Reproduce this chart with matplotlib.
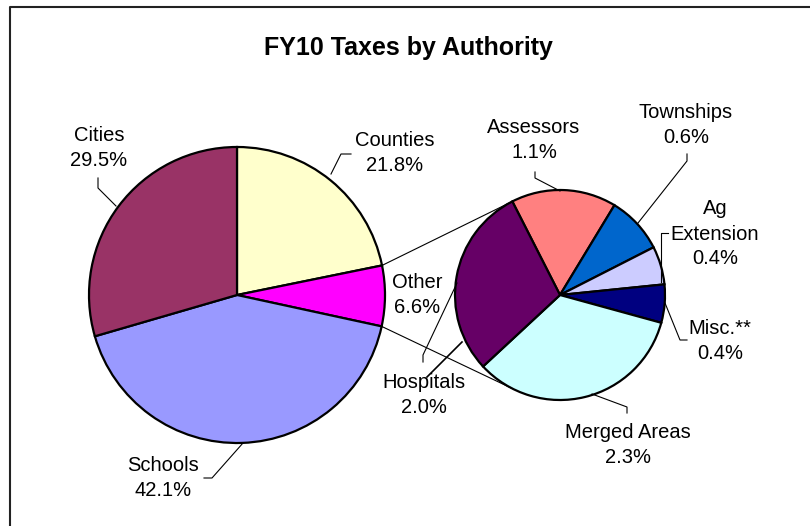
import numpy as np
import matplotlib.pyplot as plt

W, H = 810, 526

main_labels = ['Counties', 'Other', 'Schools', 'Cities']
main_values = [21.8, 6.6, 42.1, 29.5]
main_colors = ['#FFFFCC', '#FF00FF', '#9999FF', '#993366']

sub_labels = ['Assessors', 'Townships', 'Ag\nExtension', 'Misc.**', 'Merged Areas', 'Hospitals']
sub_values = [1.1, 0.6, 0.4, 0.4, 2.3, 2.0]
sub_colors = ['#FF8080', '#0066CC', '#CCCCFF', '#000080', '#CCFFFF', '#660066']

plt.rcParams['font.family'] = ['Liberation Sans', 'DejaVu Sans']

fig = plt.figure(figsize=(8.1, 5.26), dpi=100)
ax = fig.add_axes([0, 0, 1, 1])


def Y(y):
    # pixel row (from top) -> data y
    return H - y


main_c = (237, Y(295))
main_r = 148
sub_c = (560, Y(295))
sub_r = 105
sub_start = 117

wp = dict(edgecolor='black', linewidth=1.6)
ax.pie(main_values, colors=main_colors, startangle=90, counterclock=False,
       center=main_c, radius=main_r, wedgeprops=wp, frame=True)
ax.pie(sub_values, colors=sub_colors, startangle=sub_start, counterclock=False,
       center=sub_c, radius=sub_r, wedgeprops=wp, frame=True)

# connector lines from the "Other" wedge to the second pie
a1 = 90 - main_values[0] / sum(main_values) * 360
a2 = a1 - main_values[1] / sum(main_values) * 360
for am, asub in [(a1, sub_start), (a2, -sub_start)]:
    p = (main_c[0] + main_r * np.cos(np.radians(am)), main_c[1] + main_r * np.sin(np.radians(am)))
    q = (sub_c[0] + sub_r * np.cos(np.radians(asub)), sub_c[1] + sub_r * np.sin(np.radians(asub)))
    ax.plot([p[0], q[0]], [p[1], q[1]], color='black', lw=0.8)

# label text: (x, y) centre in pixels
labels = {
    'Cities': (99, 148), 'Counties': (395, 153), 'Other': (417, 295), 'Schools': (163, 478),
    'Assessors': (534, 140), 'Townships': (686, 125), 'Ag\nExtension': (715, 234),
    'Misc.**': (720, 341), 'Merged Areas': (628, 445), 'Hospitals': (424, 395),
}
pcts = dict(zip(main_labels + sub_labels, main_values + sub_values))
for name, (x, y) in labels.items():
    ax.text(x, Y(y), f'{name}\n{pcts[name]:.1f}%', ha='center', va='center',
            fontsize=14.5, linespacing=1.4)

# leader lines
leaders = [
    [(116, 206), (98, 188), (98, 178)],
    [(331, 174), (341, 154), (351, 154)],
    [(243, 443), (212, 478), (204, 478)],
    [(560, 191), (535, 178), (535, 172)],
    [(638, 223), (687, 161), (687, 154)],
    [(661, 282), (661, 233), (668, 233)],
    [(665, 303), (680, 340), (687, 340)],
    [(592, 394), (627, 407), (627, 413)],
    [(457, 283), (423, 355), (423, 362)],
]
for pts in leaders:
    xs, ys = zip(*pts)
    ax.plot(xs, [Y(v) for v in ys], color='black', lw=0.8)
ax.plot([462, 427], [Y(342), Y(377)], color='black', lw=1.2)

ax.text(408, Y(48), 'FY10 Taxes by Authority', ha='center', va='center',
        fontsize=18, fontweight='bold')

# chart area border (only top and left visible)
ax.plot([10, 10, W], [0, Y(7), Y(7)], color='#222222', lw=1.5, clip_on=False)

ax.set_xlim(0, W)
ax.set_ylim(0, H)
ax.set_aspect('auto')
ax.axis('off')

fig.savefig('out.png', dpi=100)
